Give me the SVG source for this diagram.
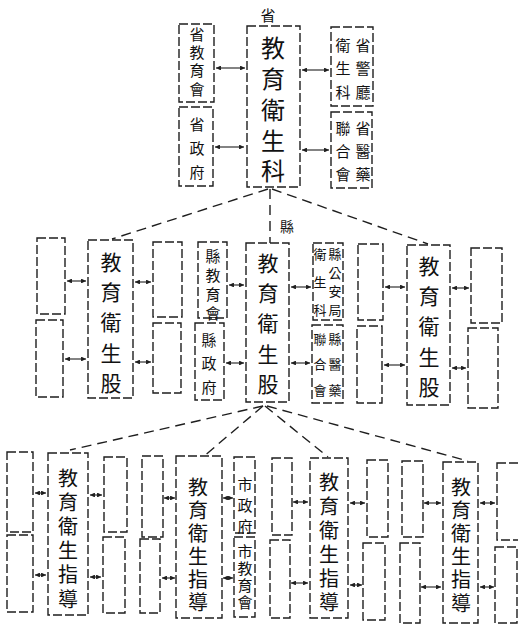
<svg xmlns="http://www.w3.org/2000/svg" width="518" height="627" viewBox="0 0 518 627">
<style>
.b{fill:none;stroke:#1e1e1e;stroke-width:1.4;stroke-dasharray:9 3}
.c{fill:none;stroke:#1e1e1e;stroke-width:1.4;stroke-dasharray:10 6}
.a{fill:none;stroke:#1e1e1e;stroke-width:1.1;marker-start:url(#ah);marker-end:url(#ah)}
text{font-family:"Noto Sans CJK TC","Noto Sans CJK SC",sans-serif;fill:#111}
.h{text-anchor:middle;dominant-baseline:central;font-size:15px}
.v{writing-mode:vertical-rl;text-anchor:start}
.t1{font-size:24px;letter-spacing:6.8px}
.t2{font-size:21px;letter-spacing:9.2px}
.t3{font-size:20px}
.s{font-size:15px}
.s2{font-size:13px}
</style>
<defs>
<marker id="ah" viewBox="0 0 6 6" refX="6" refY="3" markerWidth="4.5" markerHeight="4.5" orient="auto-start-reverse"><path d="M0,0 L6,3 L0,6 z" fill="#1e1e1e"/></marker>
</defs>
<rect width="518" height="627" fill="#fff"/>
<text x="268" y="14" class="h">省</text>
<text x="287" y="226" class="h" style="font-size:14px">縣</text>

<g id="connectors">
<line class="c" x1="268" y1="189" x2="112" y2="239"/>
<line class="c" x1="270" y1="189" x2="270" y2="243"/>
<line class="c" x1="272" y1="189" x2="428" y2="244"/>
<line class="c" x1="263" y1="406" x2="70" y2="450"/>
<line class="c" x1="263" y1="406" x2="203" y2="457"/>
<line class="c" x1="265" y1="406" x2="328" y2="457"/>
<line class="c" x1="267" y1="406" x2="468" y2="461"/>
<line class="a" x1="216" y1="68" x2="245" y2="68"/>
<line class="a" x1="215" y1="147" x2="244" y2="147"/>
<line class="a" x1="302" y1="70" x2="329" y2="70"/>
<line class="a" x1="302" y1="150" x2="329" y2="150"/>
<line class="a" x1="67" y1="281" x2="86" y2="281"/>
<line class="a" x1="65" y1="359" x2="86" y2="359"/>
<line class="a" x1="135" y1="282" x2="151" y2="282"/>
<line class="a" x1="135" y1="362" x2="151" y2="362"/>
<line class="a" x1="229" y1="285" x2="244" y2="285"/>
<line class="a" x1="226" y1="363" x2="244" y2="363"/>
<line class="a" x1="291" y1="287" x2="311" y2="287"/>
<line class="a" x1="291" y1="363" x2="310" y2="363"/>
<line class="a" x1="385" y1="287" x2="405" y2="287"/>
<line class="a" x1="384" y1="365" x2="405" y2="365"/>
<line class="a" x1="452" y1="288" x2="469" y2="288"/>
<line class="a" x1="452" y1="368" x2="466" y2="368"/>
<line class="a" x1="35" y1="493" x2="46" y2="493"/>
<line class="a" x1="35" y1="575" x2="46" y2="575"/>
<line class="a" x1="90" y1="495" x2="102" y2="495"/>
<line class="a" x1="90" y1="577" x2="101" y2="577"/>
<line class="a" x1="164" y1="498" x2="175" y2="498"/>
<line class="a" x1="162" y1="578" x2="175" y2="578"/>
<line class="a" x1="223" y1="498" x2="233" y2="498"/>
<line class="a" x1="223" y1="578" x2="233" y2="578"/>
<line class="a" x1="293" y1="502" x2="308" y2="502"/>
<line class="a" x1="291" y1="583" x2="308" y2="583"/>
<line class="a" x1="350" y1="503" x2="365" y2="503"/>
<line class="a" x1="350" y1="585" x2="362" y2="585"/>
<line class="a" x1="424" y1="503" x2="441" y2="503"/>
<line class="a" x1="421" y1="587" x2="441" y2="587"/>
<line class="a" x1="480" y1="503" x2="495" y2="503"/>
<line class="a" x1="480" y1="587" x2="494" y2="587"/>
</g>

<g id="prov-edu-assoc"><rect class="b" x="179" y="24" width="35" height="78"/>
<text class="v s" x="197" y="26.5" style="letter-spacing:3.3px">省教育會</text></g>
<g id="prov-gov"><rect class="b" x="179" y="107" width="34" height="79"/>
<text class="v s" x="197" y="116.5" style="letter-spacing:9px">省政府</text></g>
<g id="prov-main"><rect class="b" x="247" y="26" width="53" height="161"/>
<text class="v t1" x="273" y="36">教育衛生科</text></g>
<g id="prov-police"><rect class="b" x="331" y="27" width="42" height="79"/>
<text class="v s" x="363" y="37.5" style="letter-spacing:8.5px">省警廳</text>
<text class="v s" x="343" y="37.5" style="letter-spacing:8.5px">衛生科</text></g>
<g id="prov-med"><rect class="b" x="331" y="112" width="41" height="76"/>
<text class="v s" x="363" y="120.5" style="letter-spacing:8px">省醫藥</text>
<text class="v s" x="343" y="120.5" style="letter-spacing:8px">聯合會</text></g>

<g id="cL1"><rect class="b" x="37" y="238" width="28" height="76"/></g>
<g id="cL2"><rect class="b" x="36" y="320" width="27" height="77"/></g>
<g id="county-left"><rect class="b" x="88" y="240" width="45" height="158"/>
<text class="v t2" x="111" y="251.5">教育衛生股</text></g>
<g id="cL3"><rect class="b" x="153" y="242" width="29" height="75"/></g>
<g id="cL4"><rect class="b" x="153" y="323" width="28" height="70"/></g>

<g id="county-edu-assoc"><rect class="b" x="198" y="242" width="29" height="76"/>
<text class="v s" x="213" y="248.5" style="letter-spacing:4px">縣教育會</text></g>
<g id="county-gov"><rect class="b" x="195" y="323" width="29" height="77"/>
<text class="v s" x="209" y="332.5" style="letter-spacing:8.5px">縣政府</text></g>
<g id="county-main"><rect class="b" x="246" y="243" width="43" height="159"/>
<text class="v t2" x="268" y="252.5">教育衛生股</text></g>
<g id="county-police"><rect class="b" x="313" y="243" width="30" height="77"/>
<text class="v s2" x="335" y="247.5" style="letter-spacing:5.7px">縣公安局</text>
<text class="v s2" x="320" y="247.5" style="letter-spacing:15px">衛生科</text></g>
<g id="county-med"><rect class="b" x="312" y="325" width="31" height="78"/>
<text class="v s2" x="335" y="332.5" style="letter-spacing:12.5px">縣醫藥</text>
<text class="v s2" x="320" y="332.5" style="letter-spacing:12.5px">聯合會</text></g>

<g id="cR1"><rect class="b" x="358" y="244" width="25" height="76"/></g>
<g id="cR2"><rect class="b" x="357" y="326" width="25" height="77"/></g>
<g id="county-right"><rect class="b" x="407" y="245" width="43" height="160"/>
<text class="v t2" x="429" y="255.5">教育衛生股</text></g>
<g id="cR3"><rect class="b" x="471" y="248" width="31" height="75"/></g>
<g id="cR4"><rect class="b" x="468" y="328" width="30" height="80"/></g>

<g id="b1"><rect class="b" x="7" y="452" width="26" height="80"/></g>
<g id="b2"><rect class="b" x="7" y="535" width="26" height="77"/></g>
<g id="guide-1"><rect class="b" x="48" y="453" width="40" height="162"/>
<text class="v t3" x="68" y="468" style="letter-spacing:4.2px">教育衛生指導</text></g>
<g id="b3"><rect class="b" x="104" y="457" width="23" height="75"/></g>
<g id="b4"><rect class="b" x="103" y="537" width="22" height="76"/></g>
<g id="b5"><rect class="b" x="142" y="456" width="21" height="81"/></g>
<g id="b6"><rect class="b" x="140" y="539" width="20" height="74"/></g>
<g id="guide-2"><rect class="b" x="176" y="456" width="46" height="162"/>
<text class="v t3" x="198" y="477" style="letter-spacing:3px">教育衛生指導</text></g>
<g id="city-gov"><rect class="b" x="234" y="457" width="21" height="76"/>
<text class="v s" x="245" y="476.5" style="letter-spacing:6px">市政府</text></g>
<g id="city-edu"><rect class="b" x="234" y="537" width="21" height="80"/>
<text class="v s" x="245" y="543.5" style="letter-spacing:2px">市教育會</text></g>
<g id="b7"><rect class="b" x="272" y="458" width="20" height="77"/></g>
<g id="b8"><rect class="b" x="270" y="540" width="20" height="78"/></g>
<g id="guide-3"><rect class="b" x="310" y="458" width="38" height="160"/>
<text class="v t3" x="329" y="472" style="letter-spacing:4px">教育衛生指導</text></g>
<g id="b9"><rect class="b" x="367" y="460" width="21" height="77"/></g>
<g id="b10"><rect class="b" x="363" y="543" width="22" height="77"/></g>
<g id="b11"><rect class="b" x="402" y="461" width="21" height="76"/></g>
<g id="b12"><rect class="b" x="400" y="543" width="20" height="80"/></g>
<g id="guide-4"><rect class="b" x="443" y="462" width="35" height="161"/>
<text class="v t3" x="461" y="477" style="letter-spacing:3.2px">教育衛生指導</text></g>
<g id="b13"><rect class="b" x="497" y="463" width="22" height="77"/></g>
<g id="b14"><rect class="b" x="495" y="547" width="22" height="76"/></g>
</svg>
